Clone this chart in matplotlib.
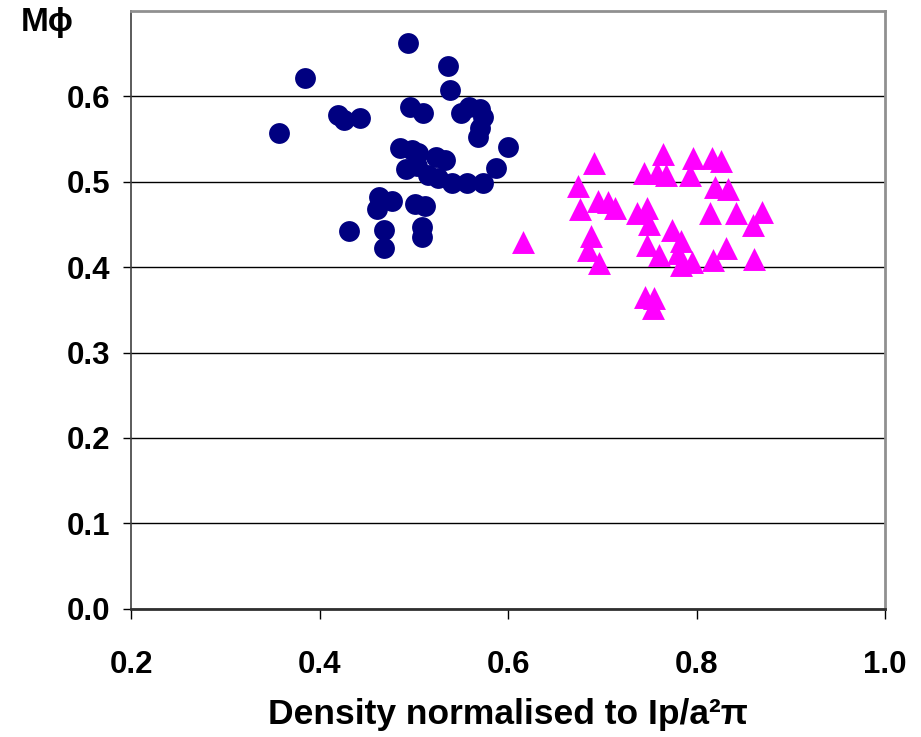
import matplotlib
matplotlib.use("Agg")
import matplotlib.pyplot as plt

plt.rcParams['font.family'] = ['Liberation Sans', 'DejaVu Sans']

# Data
circle_x = [0.357, 0.385, 0.420, 0.426, 0.443, 0.494, 0.536, 0.538, 0.496, 0.510,
            0.550, 0.559, 0.570, 0.573, 0.570, 0.568, 0.600, 0.485, 0.498, 0.504,
            0.524, 0.533, 0.492, 0.503, 0.515, 0.526, 0.541, 0.556, 0.573, 0.587,
            0.463, 0.477, 0.461, 0.501, 0.512, 0.431, 0.468, 0.468, 0.509, 0.509]
circle_y = [0.557, 0.622, 0.578, 0.572, 0.575, 0.662, 0.636, 0.607, 0.588, 0.580,
            0.580, 0.587, 0.585, 0.576, 0.563, 0.552, 0.541, 0.539, 0.537, 0.534,
            0.529, 0.526, 0.515, 0.519, 0.508, 0.505, 0.499, 0.499, 0.498, 0.516,
            0.482, 0.478, 0.468, 0.474, 0.472, 0.442, 0.444, 0.423, 0.447, 0.435]

tri_x = [0.616, 0.691, 0.674, 0.676, 0.696, 0.706, 0.713, 0.688, 0.685, 0.697,
         0.744, 0.764, 0.758, 0.768, 0.796, 0.793, 0.816, 0.826, 0.820, 0.833,
         0.814, 0.842, 0.870, 0.860, 0.861, 0.737, 0.747, 0.750, 0.748, 0.760,
         0.774, 0.784, 0.784, 0.795, 0.817, 0.831, 0.745, 0.755, 0.754, 0.780]
tri_y = [0.429, 0.522, 0.495, 0.468, 0.478, 0.476, 0.469, 0.436, 0.420, 0.405,
         0.510, 0.533, 0.510, 0.508, 0.528, 0.508, 0.528, 0.524, 0.494, 0.492,
         0.464, 0.463, 0.465, 0.449, 0.410, 0.463, 0.469, 0.451, 0.426, 0.414,
         0.443, 0.431, 0.402, 0.406, 0.408, 0.422, 0.365, 0.364, 0.352, 0.417]

x_ticks = [0.2, 0.4, 0.6, 0.8, 1.0]
x_tick_labels = ["0.2", "0.4", "0.6", "0.8", "1.0"]
y_ticks = [0.0, 0.1, 0.2, 0.3, 0.4, 0.5, 0.6]
y_tick_labels = ["0.0", "0.1", "0.2", "0.3", "0.4", "0.5", "0.6"]

fig = plt.figure(figsize=(9.21, 7.37), dpi=100)
ax = fig.add_axes([131/921, 1 - 608.7/737, (885 - 131)/921, (608.7 - 11)/737])

ax.set_xlim(0.2, 1.0)
ax.set_ylim(0.0, 0.7)

ax.yaxis.grid(True, color='black', linewidth=1.0)
ax.set_axisbelow(True)

ax.scatter(circle_x, circle_y, s=15**2, marker='o', color='#000080', linewidths=0, zorder=3)
ax.scatter(tri_x, tri_y, s=16.5**2, marker='^', color='#FF00FF', linewidths=0, zorder=3)

ax.set_xticks(x_ticks)
ax.set_xticklabels(x_tick_labels)
ax.set_yticks(y_ticks)
ax.set_yticklabels(y_tick_labels)

ax.tick_params(axis='x', direction='out', length=7.5, width=1.0, color='black', pad=22,
               labelsize=22.5)
ax.tick_params(axis='y', direction='out', length=6, width=1.0, color='black', pad=9,
               labelsize=22.5)
for lab in ax.get_xticklabels() + ax.get_yticklabels():
    lab.set_fontweight('bold')

ax.spines['left'].set_color('#404040')
ax.spines['left'].set_linewidth(1.2)
ax.spines['bottom'].set_color('#303030')
ax.spines['bottom'].set_linewidth(2.0)
ax.spines['top'].set_color('#909090')
ax.spines['top'].set_linewidth(2.0)
ax.spines['right'].set_color('#909090')
ax.spines['right'].set_linewidth(2.0)

ax.set_xlabel("Density normalised to Ip/a\u00b2\u03c0", fontsize=25.5, fontweight='bold', labelpad=13)
fig.text(21/921, 1 - 23/737, "M\u03d5", fontsize=24, fontweight='bold', va='center', ha='left')

fig.savefig("out.png", dpi=100)
